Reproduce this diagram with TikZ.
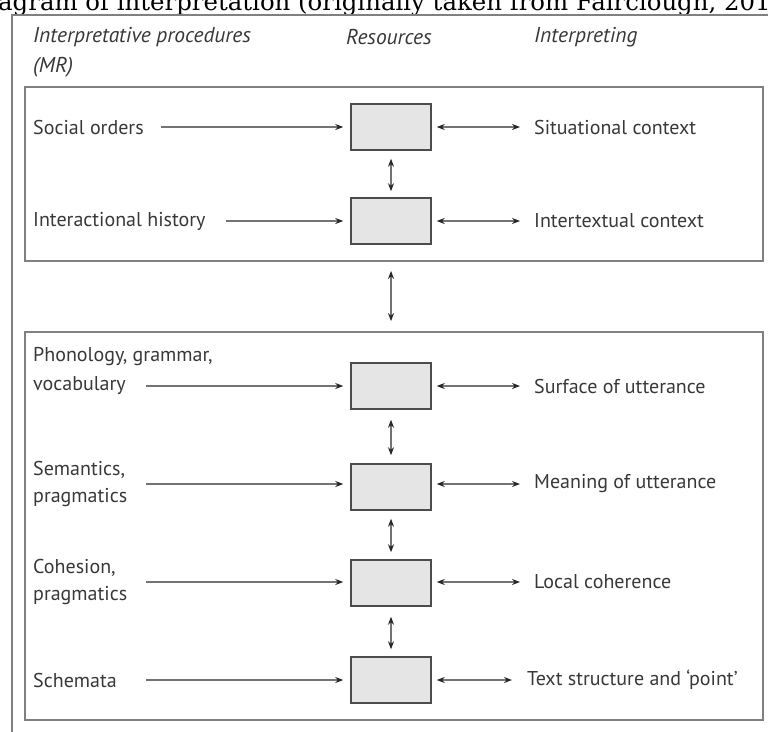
\documentclass[tikz,border=0pt]{standalone}
\usepackage{fontspec}
\setmainfont{PT Sans}
\newfontfamily\capfont{DejaVu Serif}
\usetikzlibrary{arrows.meta}
\tikzset{
  frame/.style={draw=black!50, line width=1.8pt},
  fbox/.style={frame, inner sep=0pt, minimum width=738pt},
  res/.style={draw=black!70, fill=black!10, line width=1.5pt, minimum width=80pt, minimum height=46pt, inner sep=0pt},
  lbl/.style={anchor=west, inner sep=0pt, text=black!78, font=\fontsize{20}{24}\selectfont},
  hdr/.style={lbl, font=\fontsize{21.5}{24}\selectfont\itshape},
  tip/.tip={Stealth[length=8pt,width=6pt,color=black!85]},
  conn/.style={draw=black!55, line width=1.3pt, -tip},
  dconn/.style={draw=black!55, line width=1.3pt, tip-tip},
}
\begin{document}
\begin{tikzpicture}[x=1pt,y=-1pt]
\useasboundingbox (0,0) rectangle (768,731);
% caption (cut off at top)
\node[anchor=base west, inner sep=0pt, font=\capfont\fontsize{24.4}{28}\selectfont, text=black] (cap) at (-2,10) {agram of interpretation (originally taken from Fairclough, 201};
% outer frame
\draw[frame] (12,735) -- (12,15) -- (772,15);
% headers
\node[hdr] (h1) at (33,37) {Interpretative procedures};
\node[hdr] (h1b) at (33,67) {(MR)};
\node[hdr] (h2) at (346,37) {Resources};
\node[hdr] (h3) at (534,37) {Interpreting};
% inner frames
\node[fbox, minimum height=174pt] (f1) at (394,174) {};
\node[fbox, minimum height=388pt] (f2) at (394,526) {};
% resource boxes
\node[res] (r1) at (391,127) {};
\node[res] (r2) at (391,221) {};
\node[res] (r3) at (391,386) {};
\node[res] (r4) at (391,487) {};
\node[res] (r5) at (391,583) {};
\node[res] (r6) at (391,680) {};
% left labels
\node[lbl] (l1) at (33,127) {Social orders};
\node[lbl] (l2) at (33,221) {Interactional history};
\node[lbl] (l3a) at (33,357) {Phonology, grammar,};
\node[lbl] (l3b) at (33,386) {vocabulary};
\node[lbl] (l4a) at (33,470) {Semantics,};
\node[lbl] (l4b) at (33,498) {pragmatics};
\node[lbl] (l5a) at (33,568) {Cohesion,};
\node[lbl] (l5b) at (33,596) {pragmatics};
\node[lbl] (l6) at (33,680) {Schemata};
\coordinate (a3) at (146,386);
\coordinate (a4) at (146,484);
\coordinate (a5) at (146,582);
\coordinate (a6) at (146,680);
% right labels
\node[lbl] (t1) at (534,127) {Situational context};
\node[lbl] (t2) at (534,221) {Intertextual context};
\node[lbl] (t3) at (534,386) {Surface of utterance};
\node[lbl] (t4) at (534,484) {Meaning of utterance};
\node[lbl] (t5) at (534,582) {Local coherence};
\node[lbl] (t6) at (527,680) {Text structure and ‘point’};
% left arrows
\draw[conn, shorten <=17pt, shorten >=7pt] (l1) -- (r1);
\draw[conn, shorten <=20pt, shorten >=7pt] (l2) -- (r2);
\draw[conn, shorten >=7pt] (a3) -- (r3.west |- a3);
\draw[conn, shorten >=7pt] (a4) -- (r4.west |- a4);
\draw[conn, shorten >=7pt] (a5) -- (r5.west |- a5);
\draw[conn, shorten >=7pt] (a6) -- (r6);
% right double arrows
\draw[dconn, shorten <=5pt, shorten >=14pt] (r1) -- (t1);
\draw[dconn, shorten <=5pt, shorten >=14pt] (r2) -- (t2);
\draw[dconn, shorten <=5pt, shorten >=14pt] (r3) -- (t3);
\draw[dconn, shorten <=5pt, shorten >=14pt] (r4.east |- t4) -- (t4);
\draw[dconn, shorten <=5pt, shorten >=14pt] (r5.east |- t5) -- (t5);
\draw[dconn, shorten <=5pt, shorten >=15pt] (r6) -- (t6);
% vertical double arrows
\draw[dconn, shorten <=8pt, shorten >=6pt] (r1) -- (r2);
\draw[dconn, shorten <=10pt, shorten >=8pt] (r3) -- (r4);
\draw[dconn, shorten <=8pt, shorten >=7pt] (r4) -- (r5);
\draw[dconn, shorten <=10pt, shorten >=7pt] (r5) -- (r6);
\draw[dconn, shorten <=9pt, shorten >=10pt] (f1.south -| r2) -- (f2.north -| r2);
\end{tikzpicture}
\end{document}
